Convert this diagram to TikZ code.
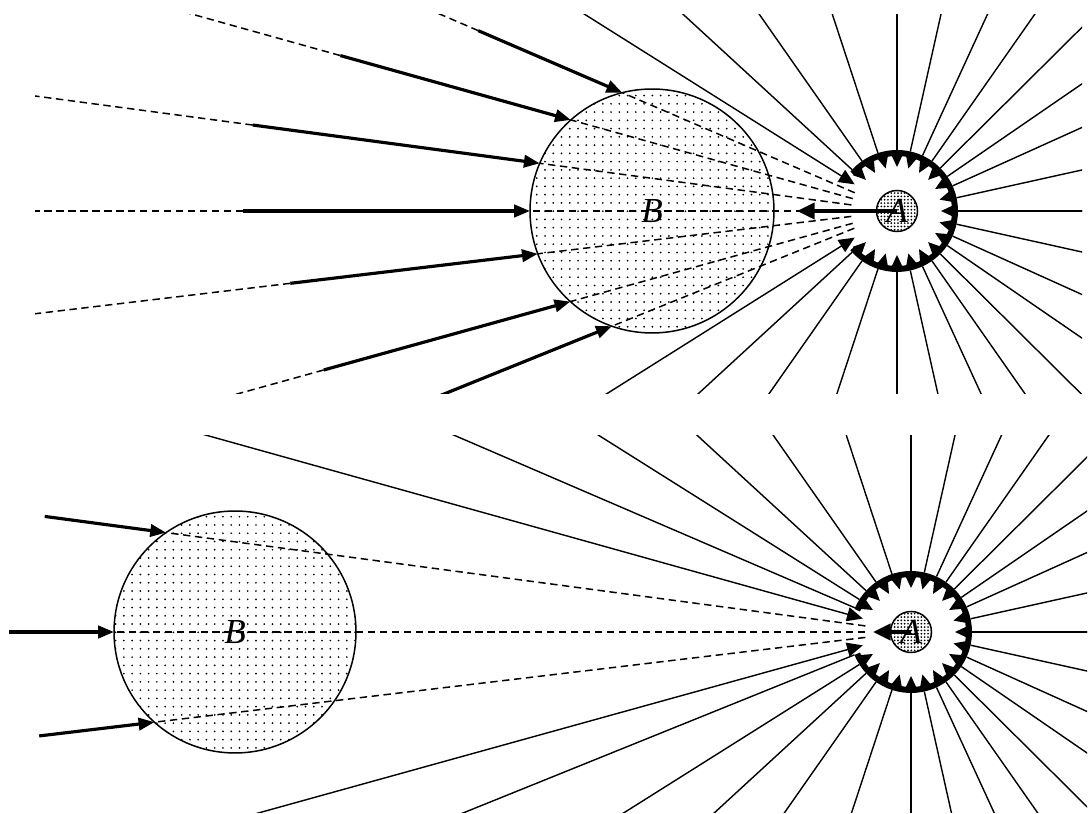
\documentclass[tikz,border=0pt]{standalone}
\usepackage{fontspec}
\setmainfont{Liberation Serif}
\usetikzlibrary{arrows.meta,calc,patterns}
\pgfdeclarepatternformonly{sparsedots}{\pgfpoint{-0.7pt}{-0.7pt}}{\pgfpoint{0.7pt}{0.7pt}}{\pgfpoint{4.7pt}{4.7pt}}{\pgfpathcircle{\pgfpointorigin}{0.55pt}\pgfusepath{fill}}
\pgfdeclarepatternformonly{densedots}{\pgfpoint{-0.6pt}{-0.6pt}}{\pgfpoint{0.6pt}{0.6pt}}{\pgfpoint{1.9pt}{1.9pt}}{\pgfpathcircle{\pgfpointorigin}{0.55pt}\pgfusepath{fill}}
\tikzset{
  fanray/.style={line width=0.8pt},
  shadowray/.style={line width=0.85pt, dash pattern=on 4.2pt off 2.6pt},
  endray/.style={fanray, -{Triangle[length=9pt,width=8pt]}},
  pusharrow/.style={line width=1.8pt, -{Triangle[length=9pt,width=7pt]}},
  pullarrow/.style={line width=2.7pt, -{Triangle[length=10pt,width=9pt]}},
  body/.style={circle, draw, line width=0.85pt, inner sep=0pt, pattern=sparsedots,
               font=\fontsize{20}{24}\selectfont\itshape},
  core/.style={circle, draw, line width=0.85pt, inner sep=0pt, minimum size=0.82cm,
               pattern=densedots, font=\fontsize{20}{24}\selectfont\itshape},
  ringband/.style={line width=3.4pt},
}
\begin{document}
\begin{tikzpicture}[x=0.02cm, y=0.02cm]
\useasboundingbox (0,0) rectangle (1088,814);

% upper panel: B near A
\node[body, minimum size=4.88cm] (B) at (652,603) {B};
\node[core] (A) at (897,603) {A};
\begin{scope}
  \clip (35,420) rectangle (1082,799);
  \foreach \a in {0,12.5,24.3,34.5,44.8,55,65.3,77.4,90,108.2,125,137.4} {
    \draw[fanray] ($(A)+(\a:61)$) -- ($(A)+(\a:700)$);
    \draw[fanray] ($(A)+(-\a:61)$) -- ($(A)+(-\a:700)$);
  }
  \draw[endray] ($(A)+(147.8:700)$) -- ($(A)+(147.8:50)$);
  \draw[endray] ($(A)+(-147.8:700)$) -- ($(A)+(-147.8:50)$);
  \foreach \a/\s in {156.7/456,164.4/578,172.4/650,180/654,186.8/611,195.5/595,202/520} {
    \pgfmathsetmacro\t{100*(2.45*cos(\a-180)+sqrt(1.22^2-(2.45*sin(\a-180))^2))}
    \draw[shadowray] ($(A)+(\a:46)$) -- ($(A)+(\a:\t)$);
    \draw[shadowray] ($(A)+(\a:\s)$) -- ($(A)+(\a:1000)$);
    \draw[pusharrow] ($(A)+(\a:\s)$) -- ($(A)+(\a:\t)$);
  }
\end{scope}
\draw[ringband] ($(A)+(-140:58)$) arc[start angle=-140, end angle=140, radius=58];
\foreach \k in {-135,-120,...,135}
  \fill ($(A)+(\k-6:57)$) -- ($(A)+(\k:44)$) -- ($(A)+(\k+6:57)$) -- cycle;
\draw[pullarrow] (A.center) -- ++(-100,0);

% lower panel: B far from A
\node[body, minimum size=4.84cm] (B2) at (235,182) {B};
\node[core] (A2) at (911,182) {A};
\begin{scope}
  \clip (0,1) rectangle (1087,378);
  \foreach \a in {0,12.5,24.3,34.5,44.8,55,65.3,77.4,90,108.2,125,137.4,147.8} {
    \draw[fanray] ($(A2)+(\a:61)$) -- ($(A2)+(\a:700)$);
    \draw[fanray] ($(A2)+(-\a:61)$) -- ($(A2)+(-\a:700)$);
  }
  \draw[fanray] ($(A2)+(156.7:61)$) -- ($(A2)+(156.7:900)$);
  \draw[fanray] ($(A2)+(-158:61)$) -- ($(A2)+(-158:900)$);
  \draw[endray] ($(A2)+(164.4:900)$) -- ($(A2)+(164.4:50)$);
  \draw[endray] ($(A2)+(-164.5:900)$) -- ($(A2)+(-164.5:50)$);
  \foreach \a/\s in {172.4/874,180/902,186.8/878} {
    \pgfmathsetmacro\t{100*(6.76*cos(\a-180)+sqrt(1.21^2-(6.76*sin(\a-180))^2))}
    \draw[shadowray] ($(A2)+(\a:46)$) -- ($(A2)+(\a:\t)$);
    \draw[pusharrow] ($(A2)+(\a:\s)$) -- ($(A2)+(\a:\t)$);
  }
\end{scope}
\draw[ringband] ($(A2)+(-158:58)$) arc[start angle=-158, end angle=158, radius=58];
\foreach \k in {-150,-135,...,150}
  \fill ($(A2)+(\k-6:57)$) -- ($(A2)+(\k:44)$) -- ($(A2)+(\k+6:57)$) -- cycle;
\draw[pullarrow] (A2.center) -- ++(-38,0);
\end{tikzpicture}
\end{document}
